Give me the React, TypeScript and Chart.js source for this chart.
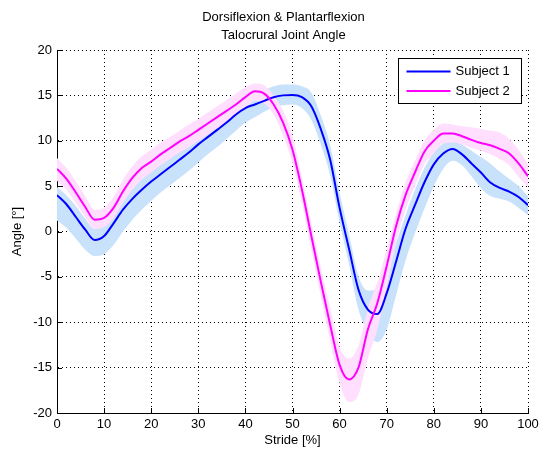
import React, { useEffect, useRef } from "react";
import { Chart, registerables } from "chart.js";

Chart.register(...registerables);

// Percent of stride at which each sample is taken
const stride = [
  0, 2, 4, 6, 8, 10, 12, 14, 16, 18, 20, 22, 24, 26, 28, 30, 32, 34, 36, 38, 40,
  42, 44, 46, 48, 50, 52, 54, 56, 58, 60, 62, 64, 66, 68, 70, 72, 74, 76, 78, 80,
  82, 84, 86, 88, 90, 92, 94, 96, 98, 100,
];

// Subject 1: mean ankle angle and its band
const subject1Mean = [
  4.0, 3.0, 1.6, 0.2, -0.95, -0.5, 0.9, 2.4, 3.6, 4.6, 5.5, 6.3, 7.1, 7.9, 8.7,
  9.6, 10.4, 11.2, 12.0, 12.9, 13.6, 14.0, 14.4, 14.8, 15.0, 15.05, 14.8, 13.8,
  11.3, 7.9, 2.6, -1.9, -6.4, -8.6, -9.1, -6.8, -3.3, 0.3, 2.9, 5.4, 7.4, 8.6,
  9.1, 8.5, 7.5, 6.5, 5.4, 4.8, 4.4, 3.8, 2.9,
];
const subject1Upper = [
  4.9, 4.0, 2.8, 1.4, 0.3, 0.8, 2.2, 3.6, 4.9, 5.9, 6.8, 7.5, 8.3, 9.1, 9.9,
  10.7, 11.5, 12.3, 13.1, 13.9, 14.7, 15.2, 15.6, 16.0, 16.2, 16.2, 16.0, 15.3,
  12.8, 9.5, 4.3, -0.3, -4.9, -6.5, -6.4, -4.0, -1.2, 1.8, 4.6, 7.0, 8.7, 9.7,
  10.1, 9.6, 8.9, 8.2, 7.5, 6.6, 5.8, 5.0, 3.9,
];
const subject1Lower = [
  1.2, 0.4, -0.8, -2.0, -2.7, -2.5, -1.5, 0.0, 1.3, 2.4, 3.4, 4.3, 5.1, 5.9,
  6.7, 7.6, 8.5, 9.3, 10.2, 11.1, 12.0, 12.6, 13.2, 13.7, 13.9, 14.0, 13.6,
  12.3, 9.6, 6.2, 1.0, -3.6, -8.6, -11.0, -12.2, -10.8, -7.0, -3.2, -0.2, 2.5,
  5.0, 6.9, 7.8, 7.3, 6.1, 4.8, 3.9, 3.6, 3.3, 2.6, 1.8,
];

// Subject 2: mean ankle angle and its band
const subject2Mean = [
  6.9, 5.8, 4.3, 2.7, 1.3, 1.5, 2.6, 4.4, 5.9, 7.0, 7.7, 8.5, 9.2, 9.9, 10.5,
  11.2, 11.9, 12.6, 13.3, 14.0, 14.8, 15.45, 15.2, 14.0, 12.0, 9.0, 4.6, -0.5,
  -5.5, -10.3, -14.7, -16.3, -15.0, -10.8, -7.9, -3.8, 0.6, 4.0, 6.5, 8.8,
  10.0, 10.8, 10.8, 10.5, 10.1, 9.75, 9.5, 9.1, 8.6, 7.5, 6.1,
];
const subject2Upper = [
  8.1, 7.0, 5.5, 3.9, 2.4, 2.6, 3.8, 5.7, 7.2, 8.3, 9.0, 9.8, 10.4, 11.1, 11.8,
  12.4, 13.1, 13.8, 14.5, 15.2, 15.9, 16.3, 16.1, 15.0, 13.3, 10.6, 6.0, 1.0,
  -3.9, -8.4, -12.7, -14.0, -12.6, -8.5, -5.6, -2.0, 2.0, 5.4, 7.8, 10.0, 11.2,
  11.9, 11.8, 11.6, 11.5, 11.3, 11.1, 10.9, 10.2, 9.0, 7.4,
];
const subject2Lower = [
  5.6, 4.6, 3.1, 1.6, 0.3, 0.5, 1.5, 3.2, 4.6, 5.7, 6.5, 7.3, 8.0, 8.7, 9.3,
  10.0, 10.7, 11.4, 12.1, 12.8, 13.6, 14.4, 14.1, 12.9, 10.6, 7.5, 3.2, -2.0,
  -7.1, -12.1, -16.7, -18.8, -18.0, -14.0, -10.8, -6.2, -1.2, 2.4, 5.0, 7.4,
  8.6, 9.7, 9.8, 9.6, 9.2, 8.9, 8.5, 8.0, 7.3, 6.0, 4.9,
];

const xTickValues = [0, 10, 20, 30, 40, 50, 60, 70, 80, 90, 100];
const yTickValues = [-20, -15, -10, -5, 0, 5, 10, 15, 20];

const titleLines = ["Dorsiflexion & Plantarflexion", "Talocrural Joint Angle"];
const xAxisTitle = "Stride [%]";
const yAxisTitle = "Angle [°]";
const seriesNames = ["Subject 1", "Subject 2"];

const BLUE = "#0000ff";
const MAGENTA = "#ff00ff";
const BLUE_BAND = "#c9e2fb";
const PINK_BAND = "#ffdffd";
const FONT = '"Liberation Sans", Arial, Helvetica, sans-serif';

const toPoints = (ys: number[]) => stride.map((x, i) => ({ x, y: ys[i] }));

// Two-line heading above the axes
const heading = {
  id: "heading",
  afterDraw(chart: any) {
    const { ctx, chartArea: a } = chart;
    ctx.save();
    ctx.font = `13px ${FONT}`;
    ctx.fillStyle = "#000";
    ctx.textAlign = "center";
    ctx.textBaseline = "middle";
    const cx = (a.left + a.right) / 2 - 9;
    titleLines.forEach((line, i) => ctx.fillText(line, cx, 17 + i * 18));
    ctx.restore();
  },
};

// Inward tick marks and the boxed legend inside the plot
const axesDecor = {
  id: "axesDecor",
  afterDatasetsDraw(chart: any) {
    const { ctx, chartArea: a, scales } = chart;
    const xs = scales.x;
    const ys = scales.y;
    ctx.save();
    ctx.strokeStyle = "#000";
    ctx.lineWidth = 1;
    ctx.setLineDash([]);
    ctx.beginPath();
    for (const t of xs.ticks) {
      const px = Math.round(xs.getPixelForValue(t.value)) + 0.5;
      ctx.moveTo(px, a.bottom);
      ctx.lineTo(px, a.bottom - 5);
    }
    for (const t of ys.ticks) {
      const py = Math.round(ys.getPixelForValue(t.value)) + 0.5;
      ctx.moveTo(a.left, py);
      ctx.lineTo(a.left + 5, py);
    }
    ctx.stroke();

    // legend
    const bx = Math.round(a.right) - 130 + 0.5;
    const by = Math.round(a.top) + 8 + 0.5;
    const bw = 123;
    const bh = 45;
    ctx.fillStyle = "#fff";
    ctx.fillRect(bx, by, bw, bh);
    ctx.strokeStyle = "#000";
    ctx.strokeRect(bx, by, bw, bh);
    const entries = [
      { label: seriesNames[0], color: BLUE },
      { label: seriesNames[1], color: MAGENTA },
    ];
    ctx.font = `13px ${FONT}`;
    ctx.textBaseline = "middle";
    ctx.textAlign = "left";
    entries.forEach((e, i) => {
      const ly = by + 13 + i * 19.5;
      ctx.strokeStyle = e.color;
      ctx.lineWidth = 2;
      ctx.beginPath();
      ctx.moveTo(bx + 8, ly);
      ctx.lineTo(bx + 52, ly);
      ctx.stroke();
      ctx.fillStyle = "#000";
      ctx.fillText(e.label, bx + 57, ly);
    });
    ctx.restore();
  },
};

export default function App() {
  const canvasRef = useRef<HTMLCanvasElement | null>(null);

  useEffect(() => {
    const canvas = canvasRef.current;
    if (!canvas) return;

    const lineCommon = {
      pointRadius: 0,
      cubicInterpolationMode: "monotone" as const,
    };

    const chart = new Chart(canvas, {
      type: "line",
      data: {
        datasets: [
          {
            ...lineCommon,
            label: seriesNames[1],
            data: toPoints(subject2Mean),
            borderColor: MAGENTA,
            borderWidth: 2,
            fill: false,
            order: 0,
          },
          {
            ...lineCommon,
            label: seriesNames[0],
            data: toPoints(subject1Mean),
            borderColor: BLUE,
            borderWidth: 2,
            fill: false,
            order: 1,
          },
          {
            ...lineCommon,
            label: "Subject 2 upper",
            data: toPoints(subject2Upper),
            borderColor: "rgba(0,0,0,0)",
            borderWidth: 0,
            backgroundColor: PINK_BAND,
            fill: "+1",
            order: 2,
          },
          {
            ...lineCommon,
            label: "Subject 2 lower",
            data: toPoints(subject2Lower),
            borderColor: "rgba(0,0,0,0)",
            borderWidth: 0,
            fill: false,
            order: 3,
          },
          {
            ...lineCommon,
            label: "Subject 1 upper",
            data: toPoints(subject1Upper),
            borderColor: "rgba(0,0,0,0)",
            borderWidth: 0,
            backgroundColor: BLUE_BAND,
            fill: "+1",
            order: 4,
          },
          {
            ...lineCommon,
            label: "Subject 1 lower",
            data: toPoints(subject1Lower),
            borderColor: "rgba(0,0,0,0)",
            borderWidth: 0,
            fill: false,
            order: 5,
          },
        ],
      },
      options: {
        animation: false,
        responsive: false,
        devicePixelRatio: 1,
        layout: { padding: { left: 0, right: 11, top: 50, bottom: 4 } },
        plugins: {
          legend: { display: false },
          tooltip: { enabled: false },
          title: { display: false },
        },
        scales: {
          x: {
            type: "linear",
            min: 0,
            max: 100,
            afterBuildTicks: (axis: any) => {
              axis.ticks = xTickValues.map((v) => ({ value: v }));
            },
            afterFit: (axis: any) => {
              axis.height = 35;
              axis.paddingLeft = 0;
              axis.paddingRight = 0;
            },
            ticks: {
              color: "#000",
              font: { family: FONT, size: 13 },
              padding: 4,
              maxRotation: 0,
            },
            grid: { color: "#000", lineWidth: 1, drawTicks: false },
            border: { display: true, color: "#000", width: 1, dash: [1, 3] },
            title: {
              display: true,
              text: xAxisTitle,
              color: "#000",
              font: { family: FONT, size: 13 },
              padding: { top: 0, bottom: 0 },
            },
          },
          y: {
            type: "linear",
            min: -20,
            max: 20,
            afterBuildTicks: (axis: any) => {
              axis.ticks = yTickValues.map((v) => ({ value: v }));
            },
            afterFit: (axis: any) => {
              axis.width = 57;
              axis.paddingTop = 0;
              axis.paddingBottom = 0;
            },
            ticks: {
              color: "#000",
              font: { family: FONT, size: 13 },
              padding: 5,
            },
            grid: { color: "#000", lineWidth: 1, drawTicks: false },
            border: { display: true, color: "#000", width: 1, dash: [1, 3] },
            title: {
              display: true,
              text: yAxisTitle,
              color: "#000",
              font: { family: FONT, size: 13 },
              padding: { top: 10, bottom: 0 },
            },
          },
        },
      },
      plugins: [axesDecor, heading],
    });

    return () => chart.destroy();
  }, []);

  return (
    <canvas
      ref={canvasRef}
      width={539}
      height={452}
      style={{ position: "absolute", left: 0, top: 0, width: 539, height: 452, display: "block" }}
    />
  );
}
